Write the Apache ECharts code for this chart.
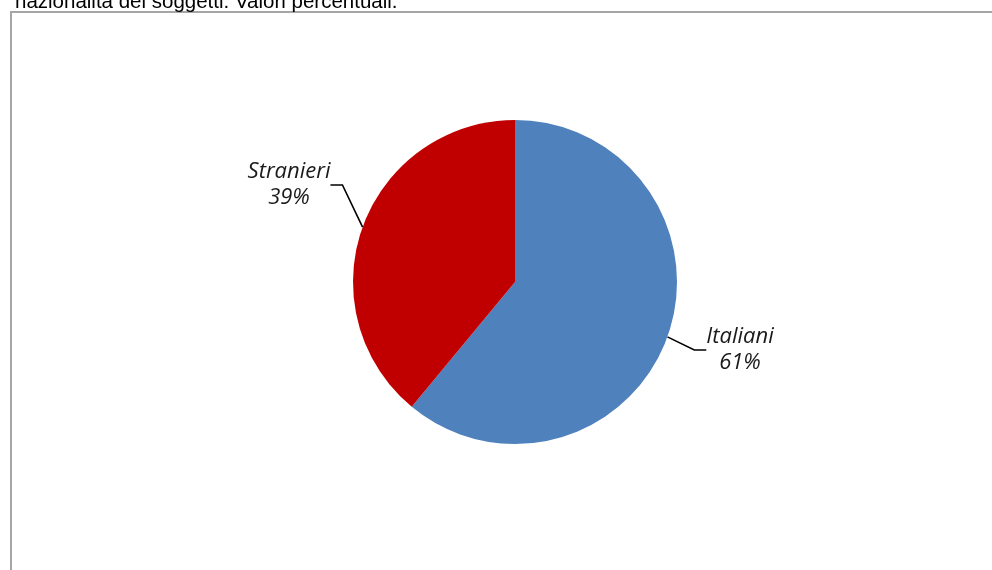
<!DOCTYPE html>
<html><head><meta charset="utf-8">
<script src="https://cdn.jsdelivr.net/npm/echarts@6/dist/echarts.min.js"></script>
<style>html,body{margin:0;padding:0;background:#fff}#c{width:992px;height:570px}</style>
</head><body><div id="c"></div>
<script>
const categories = ['Italiani', 'Stranieri'];
const values = [61, 39];
const colors = ['#4f81bd', '#c00000'];
const titleText = 'nazionalità dei soggetti. Valori percentuali.';

const chart = echarts.init(document.getElementById('c'), null, {renderer: 'canvas'});
const labelPos = {
  'Italiani': {x: 740, y: 350},
  'Stranieri': {x: 289, y: 185}
};
chart.setOption({
  backgroundColor: '#ffffff',
  animation: false,
  graphic: [
    {type: 'rect', shape: {x: 11, y: 12, width: 1000, height: 600}, style: {fill: 'none', stroke: '#a6a6a6', lineWidth: 2}, z: -1},
    {type: 'text', x: 15, y: 13, style: {text: titleText, font: '20.5px "Liberation Sans", Arial, sans-serif', fill: '#000', verticalAlign: 'bottom'}}
  ],
  series: [{
    type: 'pie',
    center: [515, 282],
    radius: 162,
    startAngle: 90,
    clockwise: true,
    avoidLabelOverlap: false,
    data: categories.map((c, i) => ({name: c, value: values[i], itemStyle: {color: colors[i]}})),
    label: {
      show: true,
      formatter: '{b}\n{d}%',
      fontFamily: '"Open Sans", Lato, sans-serif',
      fontStyle: 'italic',
      fontSize: 22,
      lineHeight: 26,
      color: '#1a1a1a'
    },
    labelLine: {show: true, length: 15, length2: 12, lineStyle: {color: '#000', width: 1.6}},
    labelLayout: function (p) {
      const pos = labelPos[p.text.split('\n')[0]];
      return pos ? {x: pos.x, y: pos.y, align: 'center', verticalAlign: 'middle'} : {};
    }
  }]
});
</script></body></html>
